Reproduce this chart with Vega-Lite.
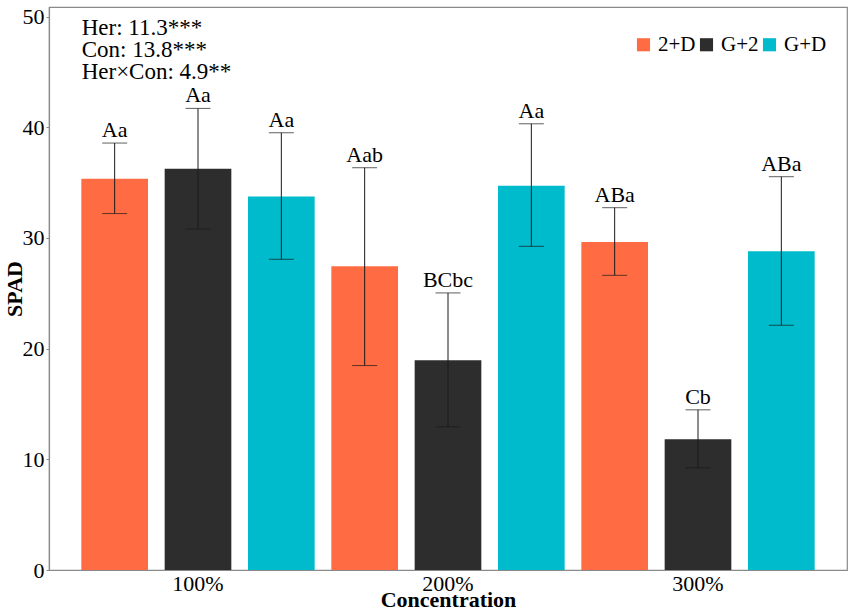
{
  "$schema": "https://vega.github.io/schema/vega-lite/v6.json",
  "width": 798,
  "height": 563,
  "autosize": {"type": "none"},
  "padding": {"left": 49, "top": 7, "right": 4, "bottom": 44},
  "data": {
    "values": [
      {"conc": "100%", "herb": "2+D", "mean": 35.35, "lo": 32.2, "hi": 38.57, "label": "Aa"},
      {"conc": "100%", "herb": "G+2", "mean": 36.25, "lo": 30.8, "hi": 41.7, "label": "Aa"},
      {"conc": "100%", "herb": "G+D", "mean": 33.75, "lo": 28.07, "hi": 39.5, "label": "Aa"},
      {"conc": "200%", "herb": "2+D", "mean": 27.44, "lo": 18.47, "hi": 36.34, "label": "Aab"},
      {"conc": "200%", "herb": "G+2", "mean": 18.95, "lo": 12.94, "hi": 25.03, "label": "BCbc"},
      {"conc": "200%", "herb": "G+D", "mean": 34.72, "lo": 29.24, "hi": 40.31, "label": "Aa"},
      {"conc": "300%", "herb": "2+D", "mean": 29.63, "lo": 26.62, "hi": 32.73, "label": "ABa"},
      {"conc": "300%", "herb": "G+2", "mean": 11.82, "lo": 9.23, "hi": 14.47, "label": "Cb"},
      {"conc": "300%", "herb": "G+D", "mean": 28.79, "lo": 22.11, "hi": 35.53, "label": "ABa"}
    ]
  },
  "encoding": {
    "x": {
      "field": "conc",
      "type": "nominal",
      "title": "Concentration",
      "scale": {"paddingInner": 0, "paddingOuter": 0.096},
      "axis": {"labelAngle": 0, "ticks": false, "domain": false, "labelPadding": 3, "titlePadding": -5}
    },
    "xOffset": {
      "field": "herb",
      "type": "nominal",
      "scale": {"paddingInner": 0.2, "paddingOuter": 0.1}
    }
  },
  "layer": [
    {
      "mark": {"type": "bar"},
      "encoding": {
        "y": {
          "field": "mean",
          "type": "quantitative",
          "title": "SPAD",
          "scale": {"domain": [0, 50.86], "nice": false, "zero": true},
          "axis": {"values": [0, 10, 20, 30, 40, 50], "grid": false, "tickSize": 3, "labelPadding": 2, "titlePadding": -4}
        },
        "color": {
          "field": "herb",
          "type": "nominal",
          "title": null,
          "scale": {"domain": ["2+D", "G+2", "G+D"], "range": ["#FF6B42", "#2D2D2D", "#00BBCC"]},
          "legend": {
            "orient": "none",
            "legendX": 584,
            "legendY": 27,
            "direction": "horizontal",
            "symbolType": "square",
            "symbolSize": 172,
            "symbolStrokeWidth": 0,
            "symbolOpacity": 1,
            "labelFont": "Liberation Serif",
            "labelFontSize": 21,
            "labelColor": "black",
            "labelOffset": 4,
            "columnPadding": 0,
            "padding": 0
          }
        }
      }
    },
    {
      "mark": {"type": "rule", "color": "#1a1a1a", "strokeWidth": 1},
      "encoding": {
        "y": {"field": "lo", "type": "quantitative"},
        "y2": {"field": "hi"}
      }
    },
    {
      "mark": {"type": "tick", "color": "#1a1a1a", "size": 25, "thickness": 1},
      "encoding": {"y": {"field": "lo", "type": "quantitative"}}
    },
    {
      "mark": {"type": "tick", "color": "#1a1a1a", "size": 25, "thickness": 1},
      "encoding": {"y": {"field": "hi", "type": "quantitative"}}
    },
    {
      "mark": {"type": "text", "font": "Liberation Serif", "fontSize": 22, "color": "black", "baseline": "alphabetic", "dy": -6},
      "encoding": {
        "y": {"field": "hi", "type": "quantitative"},
        "text": {"field": "label"}
      }
    },
    {
      "data": {"values": [{"note": ["Her: 11.3***", "Con: 13.8***", "Her×Con: 4.9**"]}]},
      "mark": {"type": "text", "font": "Liberation Serif", "fontSize": 23, "lineHeight": 22, "color": "black", "align": "left", "baseline": "alphabetic", "dx": -33},
      "encoding": {
        "x": {"datum": "100%"},
        "xOffset": {"datum": "2+D"},
        "y": {"datum": 48.3},
        "text": {"field": "note"}
      }
    }
  ],
  "config": {
    "font": "Liberation Serif",
    "view": {"stroke": "#8a8a8a", "strokeWidth": 1.2},
    "text": {"font": "Liberation Serif"},
    "legend": {"labelFont": "Liberation Serif"},
    "axis": {
      "labelFont": "Liberation Serif",
      "labelFontSize": 22,
      "labelColor": "black",
      "titleFont": "Liberation Serif",
      "titleFontSize": 22,
      "titleFontWeight": "bold",
      "titleColor": "black",
      "domainColor": "#8a8a8a",
      "domainWidth": 1.2,
      "tickColor": "#8a8a8a"
    }
  }
}
